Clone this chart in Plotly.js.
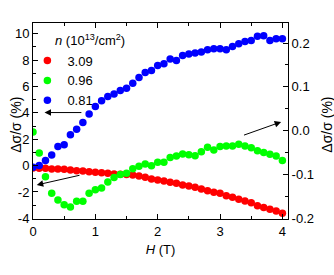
<!DOCTYPE html>
<html>
<head>
<meta charset="utf-8">
<script src="https://cdn.plot.ly/plotly-3.0.1.min.js"></script>
<style>html,body{margin:0;padding:0;background:#fff;}#chart{width:334px;height:275px;}</style>
</head>
<body>
<div id="chart"></div>
<script>
const fieldH = [0,0.1,0.2,0.3,0.4,0.5,0.6,0.7,0.8,0.9,1.0,1.1,1.2,1.3,1.4,1.5,1.6,1.7,1.8,1.9,2.0,2.1,2.2,2.3,2.4,2.5,2.6,2.7,2.8,2.9,3.0,3.1,3.2,3.3,3.4,3.5,3.6,3.7,3.8,3.9,4.0];

// n = 3.09 (left axis, %)
const n309 = [-0.18,-0.21,-0.21,-0.26,-0.26,-0.28,-0.33,-0.39,-0.41,-0.46,-0.51,-0.54,-0.59,-0.64,-0.66,-0.68,-0.71,-0.79,-0.89,-1.02,-1.09,-1.17,-1.27,-1.34,-1.47,-1.55,-1.65,-1.78,-1.91,-2.03,-2.10,-2.29,-2.41,-2.56,-2.69,-2.82,-3.05,-3.17,-3.32,-3.45,-3.62];

// n = 0.96 (right axis, %)
const n096 = [-0.003,-0.051,-0.105,-0.143,-0.158,-0.169,-0.174,-0.161,-0.161,-0.143,-0.135,-0.131,-0.117,-0.107,-0.100,-0.097,-0.087,-0.081,-0.076,-0.080,-0.072,-0.072,-0.061,-0.058,-0.053,-0.055,-0.057,-0.048,-0.038,-0.044,-0.036,-0.035,-0.035,-0.031,-0.035,-0.039,-0.046,-0.050,-0.054,-0.058,-0.068];

// n = 0.81 (left axis, %)
const n081 = [-0.13,0.01,0.39,0.81,1.45,1.57,2.33,2.76,3.26,3.92,4.48,4.91,5.24,5.42,5.69,5.87,6.25,6.68,7.06,7.20,7.58,7.72,8.09,7.97,8.35,8.46,8.53,8.61,8.78,8.86,8.86,8.78,9.03,9.24,9.41,9.49,9.80,9.85,9.49,9.62,9.62];

const seriesNames = ['3.09','0.96','0.81'];
const seriesColors = ['#ff0000','#00ff00','#0000ff'];

const leftTickVals = [-4,-2,0,2,4,6,8,10];
const leftTickText = ['-4','-2','0','2','4','6','8','10'];
const rightTickVals = [-0.2,-0.1,0,0.1,0.2];
const rightTickText = ['-0.2','-0.1','0.0','0.1','0.2'];
const xTickVals = [0,1,2,3,4];
const xTickText = ['0','1','2','3','4'];

const FONT = 'Arial, "Liberation Sans", sans-serif';

const mk = (c) => ({color: c, size: 7.5, line: {width: 0}});

const data = [
  {x: fieldH, y: n309, yaxis: 'y', type: 'scatter', mode: 'markers', name: seriesNames[0], marker: mk(seriesColors[0])},
  {x: fieldH, y: n096, yaxis: 'y2', type: 'scatter', mode: 'markers', name: seriesNames[1], marker: mk(seriesColors[1])},
  {x: fieldH, y: n081, yaxis: 'y', type: 'scatter', mode: 'markers', name: seriesNames[2], marker: mk(seriesColors[2])}
];

const arrowBase = {xref: 'x', yref: 'y', axref: 'x', ayref: 'y', text: '', showarrow: true,
  arrowhead: 2, arrowsize: 1.3, arrowwidth: 1, arrowcolor: '#000'};

const titleFont = {family: FONT, size: 14, color: '#000'};

const layout = {
  width: 334, height: 275,
  margin: {l: 33, r: 46, t: 23, b: 56},
  paper_bgcolor: '#fff', plot_bgcolor: '#fff',
  font: {family: FONT, size: 13, color: '#000'},
  showlegend: true,
  legend: {x: -0.022, xanchor: 'left', y: 0.885, yanchor: 'top', bgcolor: 'rgba(0,0,0,0)',
    font: {family: FONT, size: 13, color: '#000'}, tracegroupgap: 0},
  xaxis: {range: [0, 4.09], tickvals: xTickVals, ticktext: xTickText, ticks: 'inside', ticklen: 5,
    tickcolor: '#000', showline: true, linecolor: '#000', linewidth: 1, mirror: 'ticks',
    showgrid: false, zeroline: false,
    minor: {tickmode: 'linear', tick0: 0, dtick: 0.5, ticks: 'inside', ticklen: 3, tickcolor: '#000', showgrid: false},
    tickfont: {family: FONT, size: 13, color: '#000'},
    title: {text: '<i>H</i> (T)', font: {family: FONT, size: 13, color: '#000'}, standoff: 7}},
  yaxis: {range: [-4.05, 10.81], tickvals: leftTickVals, ticktext: leftTickText, ticks: 'inside', ticklen: 5,
    tickcolor: '#000', showline: true, linecolor: '#000', linewidth: 1,
    showgrid: false, zeroline: false,
    minor: {tickmode: 'linear', tick0: 0, dtick: 1, ticks: 'inside', ticklen: 3, tickcolor: '#000', showgrid: false},
    tickfont: {family: FONT, size: 13, color: '#000'}},
  yaxis2: {range: [-0.2016, 0.2457], overlaying: 'y', side: 'right', tickvals: rightTickVals, ticktext: rightTickText,
    ticks: 'inside', ticklen: 5, tickcolor: '#000', showline: true, linecolor: '#000', linewidth: 1,
    showgrid: false, zeroline: false,
    minor: {tickmode: 'linear', tick0: 0, dtick: 0.05, ticks: 'inside', ticklen: 3, tickcolor: '#000', showgrid: false},
    tickfont: {family: FONT, size: 13, color: '#000'}},
  annotations: [
    {xref: 'paper', yref: 'paper', x: 0.08, y: 0.915, xanchor: 'left', yanchor: 'middle', showarrow: false,
      text: '<i>n</i> (10<sup>13</sup>/cm<sup>2</sup>)', font: {family: FONT, size: 13, color: '#000'}},
    {xref: 'paper', yref: 'paper', x: -0.067, y: 0.48, xanchor: 'center', yanchor: 'middle', showarrow: false,
      textangle: -90, text: 'Δσ/σ (%)', font: titleFont},
    {xref: 'paper', yref: 'paper', x: 1.152, y: 0.48, xanchor: 'center', yanchor: 'middle', showarrow: false,
      textangle: -90, text: 'Δσ/σ (%)', font: titleFont},
    Object.assign({}, arrowBase, {x: 0.185, y: 4.02, ax: 0.80, ay: 4.02}),
    Object.assign({}, arrowBase, {x: 0.06, y: -1.47, ax: 0.77, ay: -0.71}),
    Object.assign({}, arrowBase, {x: 3.98, y: 3.31, ax: 3.36, ay: 2.27})
  ]
};

Plotly.newPlot('chart', data, layout, {displayModeBar: false, staticPlot: true});
</script>
</body>
</html>
